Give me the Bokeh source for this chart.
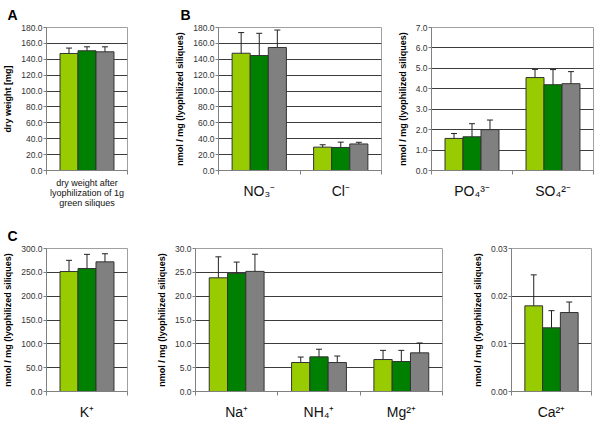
from bokeh.plotting import figure
from bokeh.models import (Range1d, FixedTicker, NumeralTickFormatter, Whisker,
                          TeeHead, ColumnDataSource)
from bokeh.layouts import row, column
from bokeh.embed import file_html
from bokeh.resources import INLINE

# ---------------- data ----------------
series_colors = ["#99cc00", "#008000", "#808080"]

a_cats = ["dry weight after\nlyophilization of 1g\ngreen siliques"]
a_means = [[147.3], [150.7], [149.4]]
a_errs = [[6.8], [5.0], [6.3]]

b1_cats = ["NO\u2083\u207b", "Cl\u207b"]
b1_means = [[147.6, 29.4], [144.7, 29.0], [154.8, 33.4]]
b1_errs = [[26.0, 3.0], [28.0, 6.7], [22.0, 2.1]]

b2_cats = ["PO\u2084\u00b3\u207b", "SO\u2084\u00b2\u207b"]
b2_means = [[1.57, 4.55], [1.65, 4.20], [2.00, 4.25]]
b2_errs = [[0.24, 0.40], [0.64, 0.74], [0.47, 0.59]]

c1_cats = ["K\u207a"]
c1_means = [[251.7], [258.0], [272.0]]
c1_errs = [[23.5], [29.7], [17.0]]

c2_cats = ["Na\u207a", "NH\u2084\u207a", "Mg\u00b2\u207a"]
c2_means = [[23.85, 6.08, 6.71], [24.8, 7.27, 6.29], [25.2, 6.08, 8.11]]
c2_errs = [[4.4, 1.15, 1.92], [2.35, 1.6, 2.34], [3.6, 1.36, 2.07]]

c3_cats = ["Ca\u00b2\u207a"]
c3_means = [[0.01797], [0.01336], [0.01657]]
c3_errs = [[0.0065], [0.0036], [0.0022]]

ylabel_ion = "nmol / mg (lyophilized siliques)"
FONT = "Liberation Sans"
BAR_W = 0.222
FRAME_H = 143


def panel(cats, means, errs, ymax, ystep, fmt, ylabel, fw,
          bl, br, bt, bb, title=None, title_offset=0, cat_font="14px",
          cat_standoff=8):
    n = len(cats)
    p = figure(frame_width=fw, frame_height=FRAME_H, output_backend="svg",
               toolbar_location=None, x_range=Range1d(-0.5, n - 0.5),
               y_range=Range1d(0, ymax), min_border_left=bl,
               min_border_right=br, min_border_top=bt, min_border_bottom=bb,
               title=title)
    p.background_fill_color = "white"
    p.border_fill_color = "white"
    p.outline_line_color = "#a0a0a0"
    if title:
        p.title.text_font = FONT
        p.title.text_font_size = "14px"
        p.title.text_font_style = "bold"
        p.title.align = "left"
        p.title.offset = title_offset
        p.title.standoff = 9
        p.title.text_color = "black"
    xs = list(range(n))
    for s in range(3):
        src = ColumnDataSource(dict(
            x=[x + (s - 1) * BAR_W for x in xs],
            top=means[s],
            upper=[m + e for m, e in zip(means[s], errs[s])],
            lower=[m - e for m, e in zip(means[s], errs[s])]))
        p.vbar(x="x", top="top", width=BAR_W, source=src,
               fill_color=series_colors[s], line_color="#333333",
               line_width=1)
        w = Whisker(source=src, base="x", upper="upper", lower="lower",
                    line_color="#222222", line_width=1,
                    upper_head=TeeHead(size=6, line_color="#222222"),
                    lower_head=TeeHead(size=6, line_color="#222222"))
        p.add_layout(w)
    # grid
    p.xgrid.visible = False
    p.ygrid.grid_line_color = "#3c3c3c"
    p.ygrid.grid_line_width = 1
    nt = int(round(ymax / ystep))
    yticks = [ystep * k for k in range(nt + 1)]
    p.yaxis.ticker = FixedTicker(ticks=yticks)
    p.ygrid.ticker = FixedTicker(ticks=yticks)
    p.yaxis.formatter = NumeralTickFormatter(format=fmt)
    p.yaxis.axis_label = ylabel
    p.yaxis.axis_label_text_font = FONT
    p.yaxis.axis_label_text_font_size = "9px"
    p.yaxis.axis_label_text_font_style = "bold"
    p.yaxis.axis_label_text_color = "black"
    p.yaxis.axis_label_standoff = 5
    p.yaxis.major_label_text_font = FONT
    p.yaxis.major_label_text_font_size = "8.5px"
    p.yaxis.major_label_text_color = "#333333"
    p.yaxis.major_label_standoff = 1
    p.yaxis.major_tick_out = 3
    p.yaxis.major_tick_in = 0
    p.yaxis.minor_tick_line_color = None
    p.yaxis.axis_line_color = "#808080"
    p.yaxis.major_tick_line_color = "#808080"
    # x axis
    bounds = [k - 0.5 for k in range(n + 1)]
    p.xaxis.ticker = FixedTicker(ticks=xs, minor_ticks=bounds)
    p.xaxis.major_label_overrides = {i: c for i, c in enumerate(cats)}
    p.xaxis.major_label_text_font = FONT
    p.xaxis.major_label_text_font_size = cat_font
    p.xaxis.major_label_text_line_height = 1.0
    p.xaxis.major_label_text_color = "#111111"
    p.xaxis.major_label_standoff = cat_standoff
    p.xaxis.major_tick_line_color = None
    p.xaxis.major_tick_out = 0
    p.xaxis.major_tick_in = 0
    p.xaxis.minor_tick_out = 4
    p.xaxis.minor_tick_in = 0
    p.xaxis.minor_tick_line_color = "#808080"
    p.xaxis.axis_line_color = "#808080"
    return p


pA = panel(a_cats, a_means, a_errs, 180, 20, "0.0", "dry weight [mg]",
           81, 39, 42, 23, 37, title="A", title_offset=-39,
           cat_font="9px", cat_standoff=3)
pB1 = panel(b1_cats, b1_means, b1_errs, 180, 20, "0.0", ylabel_ion,
            163, 49, 13, 23, 37, title="B", title_offset=-38)
pB2 = panel(b2_cats, b2_means, b2_errs, 7, 1, "0.0", ylabel_ion,
            162, 34, 1, 23, 37)
pC1 = panel(c1_cats, c1_means, c1_errs, 300, 50, "0.0", ylabel_ion,
            81, 39, 22, 38, 26, title="C", title_offset=-39)
pC2 = panel(c2_cats, c2_means, c2_errs, 30, 5, "0.0", ylabel_ion,
            247, 46, 27, 38, 26)
pC3 = panel(c3_cats, c3_means, c3_errs, 0.03, 0.01, "0.00", ylabel_ion,
            80, 41, 1, 38, 26)

layout = column(row(pA, pB1, pB2, spacing=0), row(pC1, pC2, pC3, spacing=0),
                spacing=0)
open("out.html", "w").write(file_html(layout, INLINE))
